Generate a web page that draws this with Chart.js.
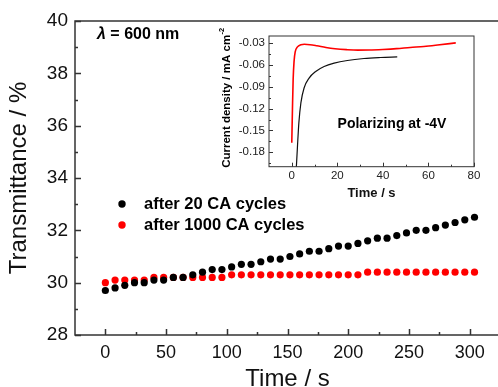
<!DOCTYPE html>
<html><head><meta charset="utf-8">
<script src="https://cdn.jsdelivr.net/npm/chart.js@4.4.0/dist/chart.umd.min.js"></script>
<style>
html,body{margin:0;padding:0;background:#fff;overflow:hidden;}
#wrap{position:relative;width:498px;height:387px;overflow:hidden;background:#fff;}
#main{position:absolute;left:0;top:0;}
#inset{position:absolute;left:215px;top:25px;}
</style></head><body>
<div id="wrap">
<canvas id="main" width="520" height="387"></canvas>
<canvas id="inset" width="270" height="178"></canvas>
</div>
<script>
// ---- main chart data ----
const timeS = [0,8,16,24,32,40,48,56,64,72,80,88,96,104,112,120,128,136,144,152,160,168,176,184,192,200,208,216,224,232,240,248,256,264,272,280,288,296,304];
const after20 = [29.7,29.8,29.9,30.0,30.0,30.1,30.1,30.2,30.2,30.3,30.4,30.5,30.5,30.6,30.7,30.7,30.8,30.9,30.9,31.0,31.1,31.2,31.2,31.3,31.4,31.4,31.5,31.6,31.7,31.7,31.8,31.9,32.0,32.0,32.1,32.2,32.3,32.4,32.5];
const after1000 = [30.0,30.1,30.1,30.1,30.1,30.2,30.2,30.2,30.2,30.2,30.2,30.2,30.2,30.3,30.3,30.3,30.3,30.3,30.3,30.3,30.3,30.3,30.3,30.3,30.3,30.3,30.3,30.4,30.4,30.4,30.4,30.4,30.4,30.4,30.4,30.4,30.4,30.4,30.4];
const seriesNames = ['after 20 CA cycles','after 1000 CA cycles'];
const xTicksMain = [0,50,100,150,200,250,300];
const yTicksMain = [28,30,32,34,36,38,40];
const xMinorMain = [25,75,125,175,225,275];
const yMinorMain = [29,31,33,35,37,39];

// ---- inset data ----
const insetTimeRed = [0,0.3,0.6,1.0,1.5,2.5,4,5.5,8,11,15,19,24,29,34,40,46,52,58,64,72];
const insetRed = [-0.167,-0.12,-0.08,-0.055,-0.042,-0.035,-0.032,-0.0314,-0.032,-0.0335,-0.0358,-0.0375,-0.0388,-0.0395,-0.0393,-0.0385,-0.0374,-0.0358,-0.0345,-0.0325,-0.0295];
const insetTimeBlack = [2.0,2.5,3.1,4.0,5.4,7.6,10.5,14.2,18.6,24.4,31.7,39,46.3];
const insetBlack = [-0.201,-0.172,-0.140,-0.112,-0.0916,-0.078,-0.0688,-0.062,-0.0574,-0.0537,-0.051,-0.0496,-0.0487];
const insetXTicks = [0,20,40,60,80];
const insetYTicks = [-0.18,-0.15,-0.12,-0.09,-0.06,-0.03];
const insetXMinor = [10,30,50,70];
const insetYMinor = [-0.195,-0.165,-0.135,-0.105,-0.075,-0.045];

const FONT = '"Liberation Sans", Arial, Helvetica, sans-serif';

function frameAndTicks(chart, o){
  const {ctx, chartArea:a, scales:{x,y}} = chart;
  ctx.save();
  ctx.strokeStyle = o.color; ctx.lineWidth = o.lw;
  ctx.strokeRect(a.left, a.top, a.right-a.left, a.bottom-a.top);
  ctx.beginPath();
  o.xMajor.forEach(v=>{const p=Math.round(x.getPixelForValue(v))+0.5; ctx.moveTo(p,a.bottom); ctx.lineTo(p,a.bottom-o.major);});
  o.xMinor.forEach(v=>{const p=Math.round(x.getPixelForValue(v))+0.5; ctx.moveTo(p,a.bottom); ctx.lineTo(p,a.bottom-o.minor);});
  o.yMajor.forEach(v=>{const p=Math.round(y.getPixelForValue(v))+0.5; ctx.moveTo(a.left,p); ctx.lineTo(a.left+o.major,p);});
  o.yMinor.forEach(v=>{const p=Math.round(y.getPixelForValue(v))+0.5; ctx.moveTo(a.left,p); ctx.lineTo(a.left+o.minor,p);});
  ctx.stroke();
  ctx.restore();
}

const mainDecor = {
  id:'mainDecor',
  afterDraw(chart){
    frameAndTicks(chart,{color:'#333',lw:1.5,major:6,minor:3,xMajor:xTicksMain,xMinor:xMinorMain,yMajor:yTicksMain,yMinor:yMinorMain});
    const ctx = chart.ctx;
    ctx.save();
    // lambda label
    ctx.fillStyle = '#000';
    ctx.textBaseline = 'middle';
    ctx.textAlign = 'left';
    ctx.font = 'italic bold 16px ' + FONT;
    ctx.fillText('λ', 97, 35);
    const w = ctx.measureText('λ').width;
    ctx.font = 'bold 16px ' + FONT;
    ctx.fillText(' = 600 nm', 97 + w, 35);
    // legend
    const ds = chart.data.datasets;
    const ly = [204, 225];
    ds.forEach((d,i)=>{
      ctx.fillStyle = d.backgroundColor;
      ctx.beginPath(); ctx.arc(122, ly[i], 3.7, 0, Math.PI*2); ctx.fill();
      ctx.fillStyle = '#000';
      ctx.font = 'bold 16.5px ' + FONT;
      ctx.fillText(d.label, 144, ly[i]);
    });
    ctx.restore();
  }
};

new Chart(document.getElementById('main'), {
  type:'scatter',
  data:{datasets:[
    {label:seriesNames[0], data:timeS.map((t,i)=>({x:t,y:after20[i]})), backgroundColor:'#000', borderColor:'#000', pointRadius:3.6, pointBorderWidth:0, pointHoverRadius:3.6},
    {label:seriesNames[1], data:timeS.map((t,i)=>({x:t,y:after1000[i]})), backgroundColor:'#ff0000', borderColor:'#ff0000', pointRadius:3.6, pointBorderWidth:0, pointHoverRadius:3.6}
  ]},
  options:{
    responsive:false, animation:false, devicePixelRatio:1,
    layout:{padding:{top:21,right:20,left:0,bottom:0}},
    plugins:{legend:{display:false}, tooltip:{enabled:false}},
    scales:{
      x:{type:'linear', min:-25, max:325,
        afterBuildTicks:s=>{s.ticks = xTicksMain.map(v=>({value:v}));},
        afterFit:s=>{s.height = 52;},
        grid:{display:false, drawTicks:false}, border:{display:false},
        ticks:{font:{family:FONT,size:18}, color:'#111', padding:7, maxRotation:0, autoSkip:false},
        title:{display:true, text:'Time / s', color:'#111', font:{family:FONT,size:24,lineHeight:0.6}, padding:{top:0,bottom:0.5}}
      },
      y:{type:'linear', min:28, max:40,
        afterBuildTicks:s=>{s.ticks = yTicksMain.map(v=>({value:v}));},
        afterFit:s=>{s.width = 75;},
        grid:{display:false, drawTicks:false}, border:{display:false},
        ticks:{font:{family:FONT,size:19}, color:'#111', padding:7, autoSkip:false},
        title:{display:true, text:'Transmittance / %', color:'#111', font:{family:FONT,size:24,lineHeight:1.2}, padding:{top:4.5,bottom:0}}
      }
    }
  },
  plugins:[mainDecor]
});

const insetDecor = {
  id:'insetDecor',
  afterDraw(chart){
    frameAndTicks(chart,{color:'#333',lw:1,major:4,minor:2,xMajor:insetXTicks,xMinor:insetXMinor,yMajor:insetYTicks,yMinor:insetYMinor});
    const {ctx, chartArea:a} = chart;
    ctx.save();
    ctx.fillStyle = '#000';
    // polarizing label
    ctx.font = 'bold 14px ' + FONT;
    ctx.textBaseline = 'middle';
    ctx.textAlign = 'center';
    ctx.fillText('Polarizing at -4V', 177, 99);
    // y title with superscript
    ctx.translate(12, (a.top + a.bottom)/2);
    ctx.rotate(-Math.PI/2);
    ctx.font = 'bold 11.5px ' + FONT;
    const main = 'Current density / mA cm';
    const mw = ctx.measureText(main).width;
    ctx.textAlign = 'left';
    ctx.fillText(main, -mw/2, 0);
    ctx.font = 'bold 7.5px ' + FONT;
    ctx.fillText('-2', mw/2 + 0.5, -5);
    ctx.restore();
  }
};

new Chart(document.getElementById('inset'), {
  type:'line',
  data:{datasets:[
    {label:'after 20', data:insetTimeBlack.map((t,i)=>({x:t,y:insetBlack[i]})), borderColor:'#111', borderWidth:1.2, pointRadius:0, fill:false, cubicInterpolationMode:'monotone'},
    {label:'after 1000', data:insetTimeRed.map((t,i)=>({x:t,y:insetRed[i]})), borderColor:'#ff0000', borderWidth:1.6, pointRadius:0, fill:false, cubicInterpolationMode:'monotone'}
  ]},
  options:{
    responsive:false, animation:false, devicePixelRatio:1,
    layout:{padding:{top:11,right:11,left:0,bottom:0}},
    plugins:{legend:{display:false}, tooltip:{enabled:false}},
    scales:{
      x:{type:'linear', min:-10, max:80,
        afterBuildTicks:s=>{s.ticks = insetXTicks.map(v=>({value:v}));},
        afterFit:s=>{s.height = 36.3;},
        grid:{display:false, drawTicks:false}, border:{display:false},
        ticks:{font:{family:FONT,size:11.5}, color:'#222', padding:2, maxRotation:0, autoSkip:false},
        title:{display:true, text:'Time / s', color:'#111', font:{family:FONT,size:13,weight:'bold',lineHeight:1.2}, padding:{top:0,bottom:2}}
      },
      y:{type:'linear', min:-0.2, max:-0.02,
        afterBuildTicks:s=>{s.ticks = insetYTicks.map(v=>({value:v}));},
        afterFit:s=>{s.width = 54;},
        grid:{display:false, drawTicks:false}, border:{display:false},
        ticks:{font:{family:FONT,size:11.5}, color:'#222', padding:4, autoSkip:false, callback:v=>v.toFixed(2)}
      }
    }
  },
  plugins:[insetDecor]
});
</script>
</body></html>
